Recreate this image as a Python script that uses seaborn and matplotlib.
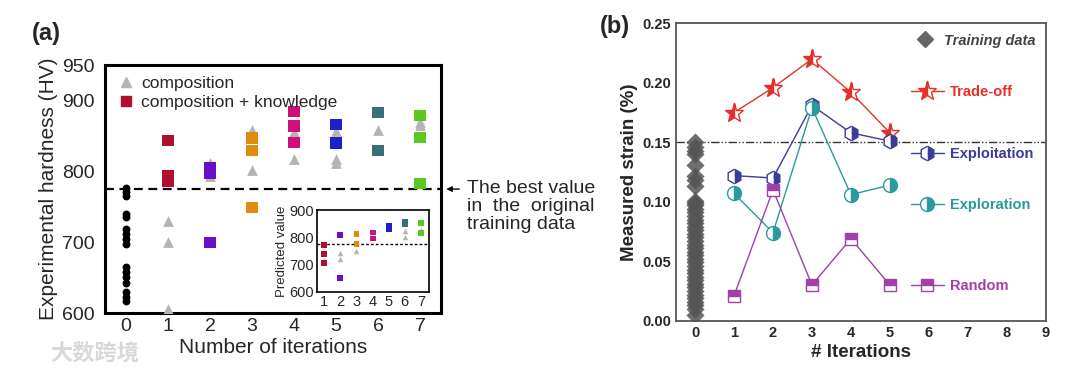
import pandas as pd
import seaborn as sns
import matplotlib.pyplot as plt
from matplotlib.lines import Line2D

sns.set_style("white")
plt.rcParams['font.family'] = ['Liberation Sans', 'Noto Sans CJK SC', 'DejaVu Sans']

# ---------------- panel (a) data ----------------
train_hv = [776, 771, 765, 740, 736, 719, 712, 705, 697, 665, 658, 651, 642, 630, 623, 617]
comp_iter = [1, 1, 1, 2, 2, 3, 3, 4, 4, 5, 5, 5, 6, 7, 7]
comp_hv = [730, 700, 605, 812, 793, 858, 802, 855, 817, 857, 817, 812, 858, 865, 870]
know_iter = [1, 1, 1, 2, 2, 2, 3, 3, 3, 4, 4, 4, 5, 5, 6, 6, 7, 7, 7]
know_hv = [843, 794, 786, 805, 797, 700, 847, 829, 749, 884, 864, 841, 866, 840, 883, 829, 879, 848, 783]
iter_colors = ['#b01030', '#6a0fc8', '#e08a10', '#d0107a', '#2020c8', '#3a6f7a', '#5cc81e']
best_hv = 775

# inset (predicted values)
ins_comp_iter = [1, 2, 2, 3, 6, 6, 7]
ins_comp_val = [717, 743, 720, 751, 825, 801, 830]
ins_know_iter = [1, 1, 1, 2, 2, 3, 3, 4, 4, 5, 5, 6, 6, 7, 7]
ins_know_val = [772, 741, 705, 810, 650, 812, 775, 819, 797, 843, 831, 858, 850, 853, 816]

# ---------------- panel (b) data ----------------
train_strain = [0.150, 0.146, 0.143, 0.140, 0.131, 0.122, 0.118, 0.113, 0.101, 0.099,
                0.097, 0.094, 0.091, 0.088, 0.085, 0.082, 0.079, 0.076, 0.073, 0.070,
                0.067, 0.064, 0.061, 0.058, 0.055, 0.052, 0.049, 0.046, 0.043, 0.040,
                0.037, 0.034, 0.031, 0.028, 0.025, 0.022, 0.019, 0.016, 0.013, 0.010, 0.005]
iters_b = [1, 2, 3, 4, 5]
tradeoff = [0.175, 0.196, 0.220, 0.192, 0.158]
exploitation = [0.122, 0.120, 0.181, 0.158, 0.151]
exploration = [0.107, 0.074, 0.179, 0.106, 0.114]
random_sel = [0.021, 0.110, 0.030, 0.069, 0.030]
best_strain = 0.15

fig = plt.figure(figsize=(10.8, 3.74), dpi=100)

# ================= (a) =================
ax = fig.add_axes([0.0972, 0.163, 0.3111, 0.663])
sns.scatterplot(x=[0] * len(train_hv), y=train_hv, ax=ax, color='black', s=32, linewidth=0, zorder=3)
sns.scatterplot(x=comp_iter, y=comp_hv, ax=ax, color='#b4b4b4', marker='^', s=60, linewidth=0, zorder=3)
dfk = pd.DataFrame({'it': know_iter, 'hv': know_hv})
sns.scatterplot(data=dfk, x='it', y='hv', hue='it', palette=iter_colors, ax=ax, marker='s',
                s=65, linewidth=0, legend=False, zorder=4)
ax.axhline(best_hv, color='black', ls=(0, (4, 2.5)), lw=1.6, zorder=2)
ax.set_xlim(-0.5, 7.5)
ax.set_ylim(600, 950)
ax.set_xticks(range(8))
ax.set_yticks([600, 700, 800, 900, 950])
ax.tick_params(axis='both', labelsize=14, length=4, width=1.5)
ax.tick_params(axis='x', direction='in')
ax.tick_params(axis='y', direction='out')
for sp in ax.spines.values():
    sp.set_linewidth(2.2)
    sp.set_color('black')
ax.set_xlabel('Number of iterations', fontsize=15, labelpad=2)
ax.set_ylabel('Experimental hardness (HV)', fontsize=15, labelpad=3)
handles = [Line2D([], [], ls='', marker='^', color='#b4b4b4', ms=7),
           Line2D([], [], ls='', marker='s', color='#b01030', ms=7)]
ax.legend(handles, ['composition', 'composition + knowledge'], loc='upper left', frameon=False,
          fontsize=12.5, handletextpad=0.3, borderaxespad=0.2, labelspacing=0.25, handlelength=1.2)
ax.annotate('', xy=(7.56, best_hv), xytext=(8.0, best_hv), annotation_clip=False,
            arrowprops=dict(arrowstyle='-|>', color='black', lw=1, mutation_scale=8))
ax.text(8.12, best_hv + 13, 'The best value\nin  the  original\ntraining data', fontsize=14,
        va='top', ha='left', linespacing=1.1, clip_on=False)
fig.text(0.043, 0.91, '(a)', fontsize=17, fontweight='bold', ha='center', va='center')
fig.text(0.088, 0.055, '大数跨境', fontsize=16, color='#d8d8d8', ha='center', va='center',
         fontweight='bold', family=['Noto Sans CJK SC', 'DejaVu Sans'])

# inset
ins = fig.add_axes([0.2935, 0.219, 0.1037, 0.219])
sns.scatterplot(x=ins_comp_iter, y=ins_comp_val, ax=ins, color='#b4b4b4', marker='^', s=16,
                linewidth=0, zorder=3)
dfi = pd.DataFrame({'it': ins_know_iter, 'v': ins_know_val})
sns.scatterplot(data=dfi, x='it', y='v', hue='it', palette=iter_colors, ax=ins, marker='s',
                s=18, linewidth=0, legend=False, zorder=4)
ins.axhline(best_hv, color='black', ls=(0, (2, 1.5)), lw=1, zorder=2)
ins.set_xlim(0.55, 7.5)
ins.set_ylim(598, 902)
ins.set_xticks(range(1, 8))
ins.set_yticks([600, 700, 800, 900])
ins.tick_params(axis='both', labelsize=10.5, length=2, direction='in', pad=2)
for sp in ins.spines.values():
    sp.set_linewidth(1.2)
    sp.set_color('black')
ins.set_ylabel('Predicted value', fontsize=9.5, labelpad=1)
ins.set_xlabel('')

# ================= (b) =================
bx = fig.add_axes([0.6256, 0.1425, 0.3426, 0.795])
sns.scatterplot(x=[0] * len(train_strain), y=train_strain, ax=bx, color='#555555', marker='D',
                s=85, linewidth=0, alpha=0.85, zorder=3)
series = [
    ('Trade-off', tradeoff, '#e5302a', '*', 14, 'left'),
    ('Exploitation', exploitation, '#3b3b9b', 'h', 10.5, 'right'),
    ('Exploration', exploration, '#2a9a9c', 'o', 10, 'right'),
    ('Random', random_sel, '#a040a8', 's', 9, 'top'),
]
leg_y = [0.768, 0.56, 0.388, 0.116]
for (name, vals, col, mk, ms, fs), ly in zip(series, leg_y):
    sns.lineplot(x=iters_b, y=vals, ax=bx, color=col, lw=1, marker=mk, ms=ms, fillstyle=fs,
                 markerfacecoloralt='white', markeredgecolor=col, markeredgewidth=1, zorder=4)
    h = Line2D([], [], color=col, lw=1, marker=mk, ms=ms, fillstyle=fs,
               markerfacecoloralt='white', markeredgecolor=col, markeredgewidth=1)
    lg = bx.legend([h], [name], loc='center left', bbox_to_anchor=(0.635, ly), frameon=False,
                   prop={'size': 10.5, 'weight': 'bold'}, labelcolor=col, handlelength=2.3,
                   handletextpad=0.4, borderaxespad=0, borderpad=0)
    bx.add_artist(lg)
hd = Line2D([], [], ls='', marker='D', color='#666666', ms=8)
bx.legend([hd], ['Training data'], loc='upper right', frameon=False, handletextpad=0.3,
          prop={'size': 10.5, 'weight': 'bold', 'style': 'italic'}, labelcolor='#444444',
          borderaxespad=0.3)
bx.axhline(best_strain, color='#333333', lw=1, ls=(0, (6, 1.5, 1, 1.5, 1, 1.5)), zorder=2)
bx.set_xlim(-0.5, 9)
bx.set_ylim(0, 0.25)
bx.set_xticks(range(10))
bx.set_yticks([0, 0.05, 0.10, 0.15, 0.20, 0.25])
bx.set_yticklabels(['0.00', '0.05', '0.10', '0.15', '0.20', '0.25'])
bx.set_xticks([i + 0.5 for i in range(9)], minor=True)
bx.set_yticks([0.025, 0.075, 0.125, 0.175, 0.225], minor=True)
bx.tick_params(axis='both', which='major', labelsize=10.5, direction='in', length=4, width=1, color='#444444')
bx.tick_params(axis='both', which='minor', direction='in', length=2, width=1, color='#444444')
for lab in bx.get_xticklabels() + bx.get_yticklabels():
    lab.set_fontweight('bold')
for sp in bx.spines.values():
    sp.set_linewidth(1.3)
    sp.set_color('#555555')
bx.set_xlabel('# Iterations', fontsize=13.5, fontweight='bold', labelpad=3)
bx.set_ylabel('Measured strain (%)', fontsize=13.5, fontweight='bold', labelpad=3)
fig.text(0.569, 0.93, '(b)', fontsize=17, fontweight='bold', ha='center', va='center')

fig.savefig('out.png', dpi=100)
